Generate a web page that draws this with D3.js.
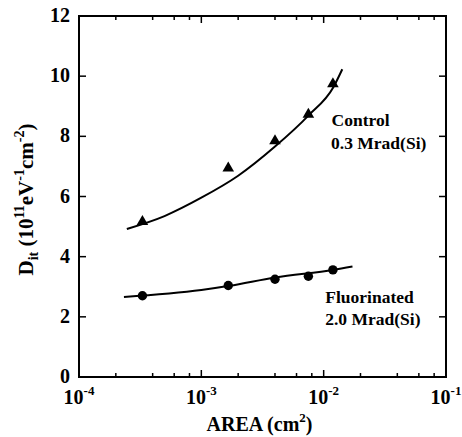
<!DOCTYPE html>
<html>
<head>
<meta charset="utf-8">
<script src="https://cdn.jsdelivr.net/npm/d3@7"></script>
</head>
<body style="margin:0;background:#fff">
<div id="chart"></div>
<script>
// measured points
let controlArea = [3.3e-4, 1.66e-3, 4.0e-3, 7.5e-3, 1.19e-2]
let controlDit = [5.16, 6.94, 7.85, 8.73, 9.74]
let fluorArea = [3.3e-4, 1.66e-3, 4.0e-3, 7.5e-3, 1.19e-2]
let fluorDit = [2.70, 3.04, 3.25, 3.35, 3.56]

// fitted curves
let controlFitArea = [2.46e-4, 5e-4, 1e-3, 2e-3, 4e-3, 7.5e-3, 1.2e-2, 1.42e-2]
let controlFitDit = [4.92, 5.35, 5.96, 6.69, 7.66, 8.69, 9.63, 10.23]
let fluorFitArea = [2.33e-4, 1e-3, 1.7e-3, 4e-3, 1.2e-2, 1.72e-2]
let fluorFitDit = [2.66, 2.89, 3.03, 3.31, 3.56, 3.67]

let xTicks = [1e-4, 1e-3, 1e-2, 1e-1]
let yTicks = [0, 2, 4, 6, 8, 10, 12]

let margin = { top: 16, left: 79, right: 16, bottom: 60 }
let width = 462 - margin.left - margin.right
let height = 437 - margin.top - margin.bottom

let svg = d3
  .select('#chart')
  .append('svg')
  .attr('width', 462)
  .attr('height', 437)
  .append('g')
  .attr('transform', 'translate(' + margin.left + ',' + margin.top + ')')

function serif(sel) {
  return sel
    .style('font-family', "'Liberation Serif'")
    .style('font-weight', 'bold')
    .attr('fill', '#000')
}

let x = d3.scaleLog().domain([1e-4, 1e-1]).range([0, width])
let y = d3.scaleLinear().domain([0, 12]).range([height, 0])

// minor ticks 2,4,6,8 per decade
let minorX = []
xTicks.slice(0, 3).forEach(d => {
  ;[2, 4, 6, 8].forEach(m => minorX.push(d * m))
})

// frame
svg
  .append('rect')
  .attr('width', width)
  .attr('height', height)
  .attr('fill', 'none')
  .attr('stroke', '#000')
  .attr('stroke-width', 2)

let ticks = svg.append('g').attr('stroke', '#000').attr('stroke-width', 1.5)

xTicks.slice(1, 3).forEach(d => {
  ticks.append('line').attr('x1', x(d)).attr('x2', x(d)).attr('y1', height).attr('y2', height - 7)
  ticks.append('line').attr('x1', x(d)).attr('x2', x(d)).attr('y1', 0).attr('y2', 7)
})
minorX.forEach(d => {
  ticks.append('line').attr('x1', x(d)).attr('x2', x(d)).attr('y1', height).attr('y2', height - 4)
  ticks.append('line').attr('x1', x(d)).attr('x2', x(d)).attr('y1', 0).attr('y2', 4)
})
yTicks.slice(1, 6).forEach(d => {
  ticks.append('line').attr('x1', 0).attr('x2', 7).attr('y1', y(d)).attr('y2', y(d))
  ticks.append('line').attr('x1', width).attr('x2', width - 7).attr('y1', y(d)).attr('y2', y(d))
})

// y tick labels
svg
  .selectAll('.ylab')
  .data(yTicks)
  .enter()
  .append('text')
  .attr('class', 'ylab')
  .attr('x', -9)
  .attr('y', d => y(d))
  .attr('dy', 6)
  .attr('text-anchor', 'end')
  .attr('font-size', 20)
  .call(serif)
  .text(d => d)

// x tick labels 10^n
xTicks.forEach(d => {
  let t = svg
    .append('text')
    .attr('x', x(d))
    .attr('y', height + 27)
    .attr('text-anchor', 'middle')
    .attr('font-size', 20)
    .call(serif)
  t.append('tspan').text('10')
  t.append('tspan')
    .attr('dy', -9)
    .attr('font-size', 13)
    .text(String(Math.round(Math.log10(d))))
})

// axis titles
let xt = svg
  .append('text')
  .attr('x', width / 2 - 3)
  .attr('y', height + 54)
  .attr('text-anchor', 'middle')
  .attr('font-size', 20)
  .call(serif)
xt.append('tspan').text('AREA (cm')
xt.append('tspan').attr('dy', -9).attr('font-size', 13).text('2')
xt.append('tspan').attr('dy', 9).text(')')

let yt = svg
  .append('text')
  .attr('transform', 'translate(' + -46 + ',' + (height / 2 + 3) + ') rotate(-90)')
  .attr('text-anchor', 'middle')
  .attr('font-size', 21)
  .call(serif)
yt.append('tspan').text('D')
yt.append('tspan').attr('dy', 5).attr('font-size', 14).text('it')
yt.append('tspan').attr('dy', -5).text(' (10')
yt.append('tspan').attr('dy', -9).attr('font-size', 14).text('11')
yt.append('tspan').attr('dy', 9).text('eV')
yt.append('tspan').attr('dy', -9).attr('font-size', 14).text('-1')
yt.append('tspan').attr('dy', 9).text('cm')
yt.append('tspan').attr('dy', -9).attr('font-size', 14).text('-2')
yt.append('tspan').attr('dy', 9).text(')')

// fitted curves
let line = d3
  .line()
  .x(d => x(d[0]))
  .y(d => y(d[1]))
  .curve(d3.curveMonotoneX)

svg
  .append('path')
  .datum(d3.zip(controlFitArea, controlFitDit))
  .attr('d', line)
  .attr('fill', 'none')
  .attr('stroke', '#000')
  .attr('stroke-width', 2)

svg
  .append('path')
  .datum(d3.zip(fluorFitArea, fluorFitDit))
  .attr('d', line)
  .attr('fill', 'none')
  .attr('stroke', '#000')
  .attr('stroke-width', 2)

// markers
let tri = d3.symbol().type(d3.symbolTriangle).size(58)
svg
  .selectAll('.tri')
  .data(d3.zip(controlArea, controlDit))
  .enter()
  .append('path')
  .attr('class', 'tri')
  .attr('d', tri)
  .attr('transform', d => 'translate(' + x(d[0]) + ',' + y(d[1]) + ')')
  .attr('fill', '#000')

svg
  .selectAll('.dot')
  .data(d3.zip(fluorArea, fluorDit))
  .enter()
  .append('circle')
  .attr('class', 'dot')
  .attr('cx', d => x(d[0]))
  .attr('cy', d => y(d[1]))
  .attr('r', 4.7)
  .attr('fill', '#000')

// labels
let labels = [
  { text: 'Control', area: 1.16e-2, dit: 8.33 },
  { text: '0.3 Mrad(Si)', area: 1.15e-2, dit: 7.58 },
  { text: 'Fluorinated', area: 1.03e-2, dit: 2.45 },
  { text: '2.0 Mrad(Si)', area: 1.03e-2, dit: 1.73 }
]
svg
  .selectAll('.lab')
  .data(labels)
  .enter()
  .append('text')
  .attr('class', 'lab')
  .attr('x', d => x(d.area))
  .attr('y', d => y(d.dit))
  .attr('font-size', 17.5)
  .call(serif)
  .text(d => d.text)
</script>
</body>
</html>
